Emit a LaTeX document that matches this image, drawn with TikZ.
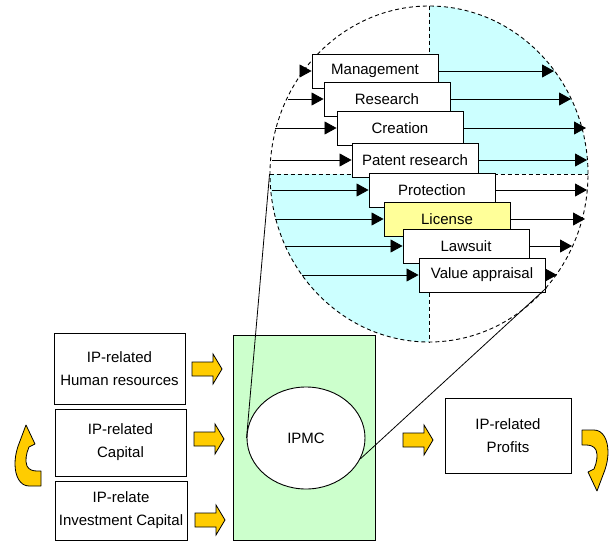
\documentclass[tikz,border=0pt]{standalone}
\usepackage{fontspec}
\setmainfont{Liberation Sans}
\usetikzlibrary{shapes.geometric,arrows.meta}
\definecolor{cyanq}{HTML}{CCFFFF}
\definecolor{greenq}{HTML}{CCFFCC}
\definecolor{yelarrow}{HTML}{FFCC00}
\definecolor{licyel}{HTML}{FFFF99}
\begin{document}
\begin{tikzpicture}[x=1pt,y=-1pt,
  txt/.style={font=\fontsize{15}{23}\selectfont},
  stepbox/.style={draw=black, line width=0.9pt, fill=white, minimum width=126pt, minimum height=34pt, inner sep=0pt, txt},
  outbox/.style={draw=black, line width=0.9pt, fill=white, inner sep=0pt, align=center, txt},
  flow/.style={line width=0.8pt, -{Triangle[length=12pt,width=13pt]}},
  zdash/.style={line width=0.9pt, dash pattern=on 4pt off 3pt},
  barrow/.pic={\draw[fill=yelarrow, line width=0.8pt] (0,-7) -- (21,-7) -- (21,-15) -- (30,0) -- (21,15) -- (21,7) -- (0,7) -- cycle;},
  carrow/.pic={\draw[fill=yelarrow, line width=0.8pt, line join=round]
     (-13,-30) -- (-1,-30) .. controls (8,-30) and (13,-20) .. (13,-8)
     .. controls (13,2) and (10,10) .. (8,15) -- (2,31) -- (-7,12) -- (-1,9)
     .. controls (2,2) and (3,-5) .. (1,-10) .. controls (-1,-14) and (-5,-15) .. (-9,-15)
     -- (-13,-15) -- cycle;}
]
\useasboundingbox (0,0) rectangle (611,541);

% magnified circle
\begin{scope}
  \clip (429,174) ellipse [x radius=159pt, y radius=168pt];
  \fill[cyanq] (429,174) rectangle (600,0);
  \fill[cyanq] (429,174) rectangle (260,350);
\end{scope}
\node[ellipse, minimum width=318pt, minimum height=336pt, inner sep=0pt, draw, zdash] (zoom) at (429,174) {};
\draw[zdash] (zoom.north) -- (zoom.south);
\draw[zdash] (zoom.west) -- (zoom.east);

% steps
\node[stepbox] (mg) at (375,71) {Management};
\node[stepbox] (rs) at (387,99) {Research};
\node[stepbox] (cr) at (400,128) {Creation};
\node[stepbox] (pr) at (415,160) {Patent research};
\node[stepbox] (pt) at (432,190) {Protection};
\node[stepbox, fill=licyel] (li) at (447,219) {License};
\node[stepbox] (lw) at (466,246) {Lawsuit};
\node[stepbox] (va) at (482,275) {Value appraisal};

% free ends on the circle
\coordinate (mgL) at (304,71);  \coordinate (mgR) at (554,71);
\coordinate (rsL) at (288,99);  \coordinate (rsR) at (571,99);
\coordinate (crL) at (275,128); \coordinate (crR) at (586,128);
\coordinate (prL) at (272,160); \coordinate (prR) at (587,160);
\coordinate (ptL) at (272,190); \coordinate (ptR) at (587,190);
\coordinate (liL) at (275,219); \coordinate (liR) at (585,219);
\coordinate (lwL) at (285,246); \coordinate (lwR) at (572,246);
\coordinate (vaL) at (302,275); \coordinate (vaR) at (557,275);

\foreach \n in {mg,rs,cr,pr,pt,li,lw,va}{
  \draw[flow] (\n L) -- (\n.west);
  \draw[flow] (\n.east) -- (\n R);
}

% lower part
\draw[line width=0.9pt, fill=greenq] (233,335) rectangle (375,540);
\node[ellipse, draw, line width=0.9pt, fill=white, minimum width=118pt, minimum height=102pt, inner sep=0pt, txt] (ipmc) at (306,438) {IPMC};
\draw[line width=0.8pt] (ipmc.west) -- (zoom.west);
\draw[line width=0.8pt] (ipmc.-21) -- (zoom.-44);

\node[outbox, minimum width=131pt, minimum height=71pt] (hr) at (119.5,368.5) {IP-related\\Human resources};
\node[outbox, minimum width=131pt, minimum height=67pt] (cap) at (120.5,442.5) {IP-related\\Capital};
\node[outbox, minimum width=132pt, minimum height=59pt] (inv) at (121,510.5) {IP-relate\\Investment Capital};
\node[outbox, minimum width=126pt, minimum height=75pt] (prof) at (508,435.5) {IP-related\\Profits};

\pic at (192,369) {barrow};
\pic at (194,439) {barrow};
\pic at (195,520) {barrow};
\pic at (403,440) {barrow};

\pic at (595,460) {carrow};
\pic[rotate=180] at (28,456) {carrow};
\end{tikzpicture}
\end{document}
